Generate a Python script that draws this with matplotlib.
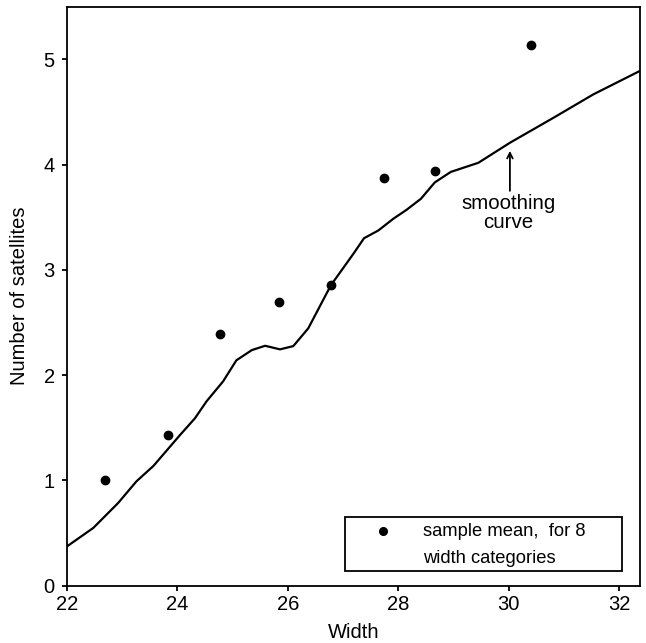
import matplotlib
matplotlib.use('Agg')
import matplotlib.pyplot as plt
from matplotlib.patches import Rectangle

plt.rcParams['font.family'] = ['Liberation Sans', 'DejaVu Sans']

# sample means for the 8 width categories
mean_width = [22.69, 23.84, 24.77, 25.84, 26.79, 27.74, 28.67, 30.41]
mean_sat = [1.0, 1.43, 2.39, 2.69, 2.86, 3.87, 3.94, 5.14]

# smoothing curve
curve_x = [22.0, 22.48, 22.93, 23.26, 23.57, 23.87, 24.05, 24.32, 24.53, 24.83,
           25.07, 25.35, 25.59, 25.86, 26.10, 26.37, 26.78, 27.19, 27.38, 27.64,
           27.91, 28.15, 28.41, 28.66, 28.95, 29.45, 30.02, 30.81, 31.53, 32.37]
curve_y = [0.37, 0.547, 0.784, 0.989, 1.137, 1.32, 1.43, 1.589, 1.75, 1.94,
           2.14, 2.237, 2.278, 2.244, 2.275, 2.443, 2.853, 3.154, 3.30, 3.374,
           3.485, 3.57, 3.675, 3.83, 3.93, 4.017, 4.207, 4.445, 4.667, 4.889]

xticks = [22, 24, 26, 28, 30, 32]
yticks = [0, 1, 2, 3, 4, 5]

fig = plt.figure(figsize=(6.46, 6.43), dpi=100)
ax = fig.add_axes([0.1033, 0.0894, 0.8875, 0.9002])

ax.plot(curve_x, curve_y, color='black', lw=1.6)
ax.plot(mean_width, mean_sat, 'o', color='black', ms=6, ls='none')

ax.set_xlim(22, 32.375)
ax.set_ylim(0, 5.5)
ax.set_xticks(xticks)
ax.set_yticks(yticks)
ax.tick_params(direction='out', length=3.6, width=1.3, labelsize=14.5, color='black')
ax.tick_params(axis='x', pad=3.5)
ax.tick_params(axis='y', pad=5)
for s in ax.spines.values():
    s.set_linewidth(1.3)

ax.set_xlabel('Width', fontsize=14.5, labelpad=6.5)
ax.set_ylabel('Number of satellites', fontsize=14.5, labelpad=10.5)

# arrow + label for the curve
ax.annotate('', xy=(30.02, 4.13), xytext=(30.02, 3.75),
            arrowprops=dict(arrowstyle='->', lw=1.3, color='black',
                            shrinkA=0, shrinkB=0))
ax.text(29.99, 3.72, 'smoothing\ncurve', ha='center', va='top',
        fontsize=14.8, linespacing=0.98)

# legend box drawn by hand
ax.add_patch(Rectangle((0.4854, 0.0256), 0.4836, 0.0933, transform=ax.transAxes,
                       fill=False, lw=1.3, ec='black'))
ax.plot([0.551], [0.0942], 'o', color='black', ms=5.5, transform=ax.transAxes,
        clip_on=False)
ax.text(0.621, 0.0933, 'sample mean,  for 8', transform=ax.transAxes,
        va='center', ha='left', fontsize=13.2)
ax.text(0.621, 0.047, 'width categories', transform=ax.transAxes,
        va='center', ha='left', fontsize=13.2)

fig.savefig('out.png', dpi=100)
